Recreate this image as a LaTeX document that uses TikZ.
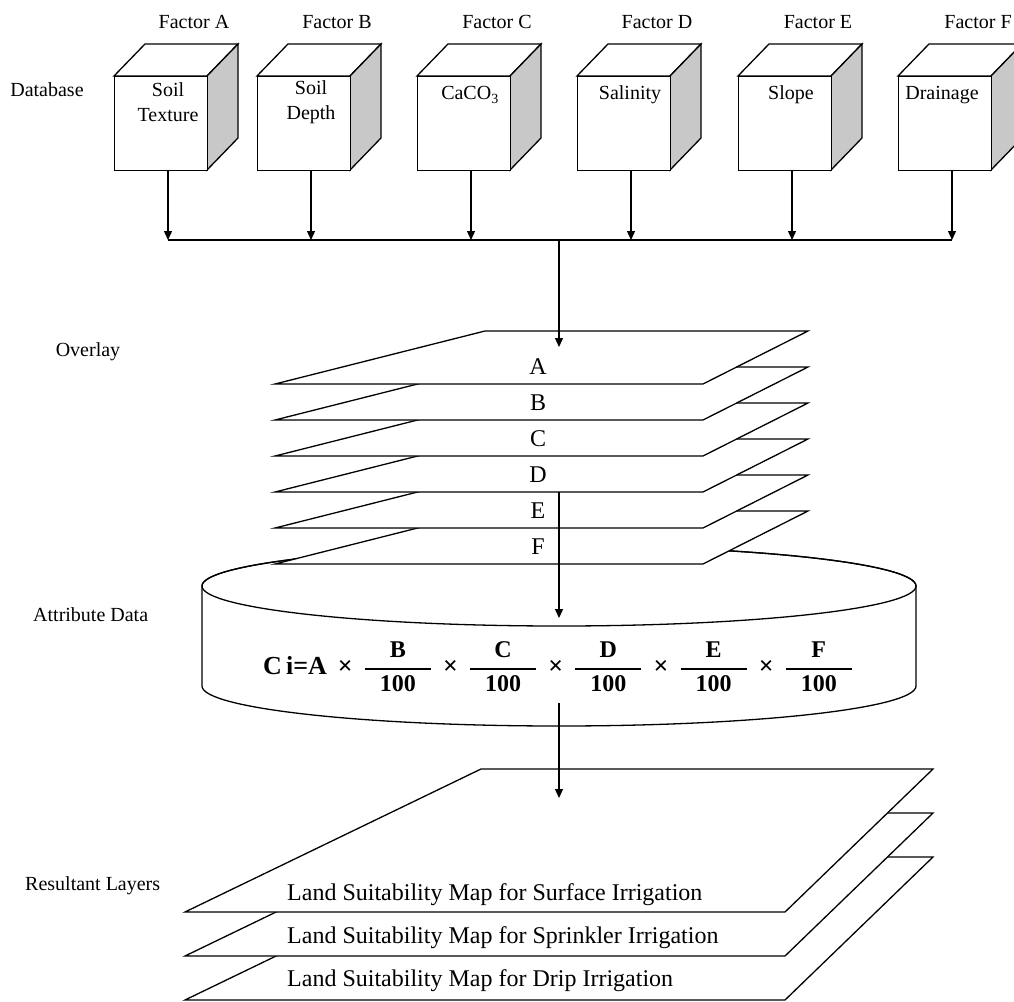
\documentclass[tikz,border=0pt]{standalone}
\usepackage{amsmath}
\usepackage{fontspec}
\setmainfont{Liberation Serif}
\usetikzlibrary{arrows.meta}
\definecolor{sidegray}{RGB}{200,200,200}
\tikzset{
  ln/.style={line width=1.3pt, line join=miter},
  cubeface/.style={ln, draw=black, fill=white},
  cubeside/.style={ln, draw=black, fill=sidegray},
  lbl/.style={font=\fontsize{20}{25}\selectfont, inner sep=0pt},
  inlbl/.style={font=\fontsize{20}{25}\selectfont, align=center, inner sep=0pt},
  layerlbl/.style={font=\fontsize{24}{28}\selectfont, inner sep=0pt},
  sheet/.style={line width=1.3pt, draw=black, fill=white, line join=miter},
  arr/.style={line width=1.3pt, -{Triangle[length=9pt,width=8pt]}},
  conn/.style={line width=1.3pt},
}
\newcommand{\mycube}[3]{% name, left x, factor letter
  \draw[cubeface] (#2,-76) -- (#2+31,-44) -- (#2+124,-44) -- (#2+93,-76) -- cycle;
  \draw[cubeside] (#2+93,-76) -- (#2+124,-44) -- (#2+124,-138) -- (#2+93,-170) -- cycle;
  \node[cubeface, minimum width=93pt, minimum height=94pt, anchor=north west, inner sep=0pt] (#1) at (#2,-76) {};
  \node[lbl] (#1f) at (#2+80,-22) {Factor #3};
  \coordinate (#1o) at (#2+54,-170);
  \coordinate (#1b) at (#2+54,-240);
}
\newcommand{\myfr}[1]{\genfrac{}{}{2pt}{0}{\makebox[66pt]{\fontsize{24}{26}\selectfont\bfseries #1}}{\makebox[66pt]{\fontsize{24}{26}\selectfont\bfseries 100}}}
\newcommand{\tms}{\hspace{11pt}\textbf{×}\hspace{11pt}}
\begin{document}
\begin{tikzpicture}[x=1pt,y=1pt]
\useasboundingbox (0,0) rectangle (1014,-1001);
% cubes
\mycube{cA}{114}{A}
\mycube{cB}{257}{B}
\mycube{cC}{417}{C}
\mycube{cD}{577}{D}
\mycube{cE}{738}{E}
\mycube{cF}{898}{F}
\node[inlbl] (tA) at (168,-102) {Soil\\Texture};
\node[inlbl] (tB) at (311,-102) {Soil\\Depth};
\node[inlbl] (tC) at (470,-95) {CaCO\textsubscript{3}};
\node[inlbl] (tD) at (630,-95) {Salinity};
\node[inlbl] (tE) at (791,-95) {Slope};
\node[inlbl] (tF) at (942,-95) {Drainage};
\node[lbl] (ldb) at (47,-90) {Database};
% connectors to bus
\foreach \c in {cA,cB,cC,cD,cE,cF} {\draw[arr] (\c o) -- (\c b);}
\draw[conn] (cAb) -- (cFb);
\coordinate (busm) at (559,-240);
\coordinate (topA) at (559,-347);
% cylinder
\draw[ln, fill=white] (202,-586) -- (202,-686) arc[start angle=180, end angle=360, x radius=357, y radius=40] -- (916,-586) arc[start angle=0, end angle=180, x radius=357, y radius=40] -- cycle;
\draw[ln] (559,-586) ellipse[x radius=357, y radius=40];
% overlay layers
\foreach \k/\t in {5/F,4/E,3/D,2/C,1/B,0/A} {
  \draw[sheet] (485,{-331-36*\k}) -- (808,{-331-36*\k}) -- (703,{-384-36*\k}) -- (275,{-384-36*\k}) -- cycle;
  \node[layerlbl] (l\t) at (538,{-367-36*\k}) {\t};
}
\node[lbl] (lov) at (88,-352) {Overlay};
\draw[arr] (busm) -- (topA);
\coordinate (dbot) at (559,-492);
\coordinate (cyltop) at (559,-618);
\draw[arr] (dbot) -- (cyltop);
\node[lbl, anchor=west] (lat) at (33,-615) {Attribute Data};
% formula
\node[inner sep=0pt, font=\fontsize{26}{30}\selectfont] (frm) at (558,-667)
  {\textbf{C\,i=A}\tms$\myfr{B}$\tms$\myfr{C}$\tms$\myfr{D}$\tms$\myfr{E}$\tms$\myfr{F}$};
\coordinate (cylbot) at (559,-703);
\coordinate (restop) at (559,-798);
% resultant layers
\foreach \k/\txt in {2/Drip,1/Sprinkler,0/Surface} {
  \draw[sheet] (481,{-769-44*\k}) -- (933,{-769-44*\k}) -- (785,{-912-44*\k}) -- (185,{-912-44*\k}) -- cycle;
  \node[layerlbl, anchor=west] (r\txt) at (287,{-895-43*\k}) {Land Suitability Map for \txt\ Irrigation};
}
\draw[arr] (cylbot) -- (restop);
\node[lbl, anchor=west] (lres) at (25,-886) {Resultant Layers};
\end{tikzpicture}
\end{document}
